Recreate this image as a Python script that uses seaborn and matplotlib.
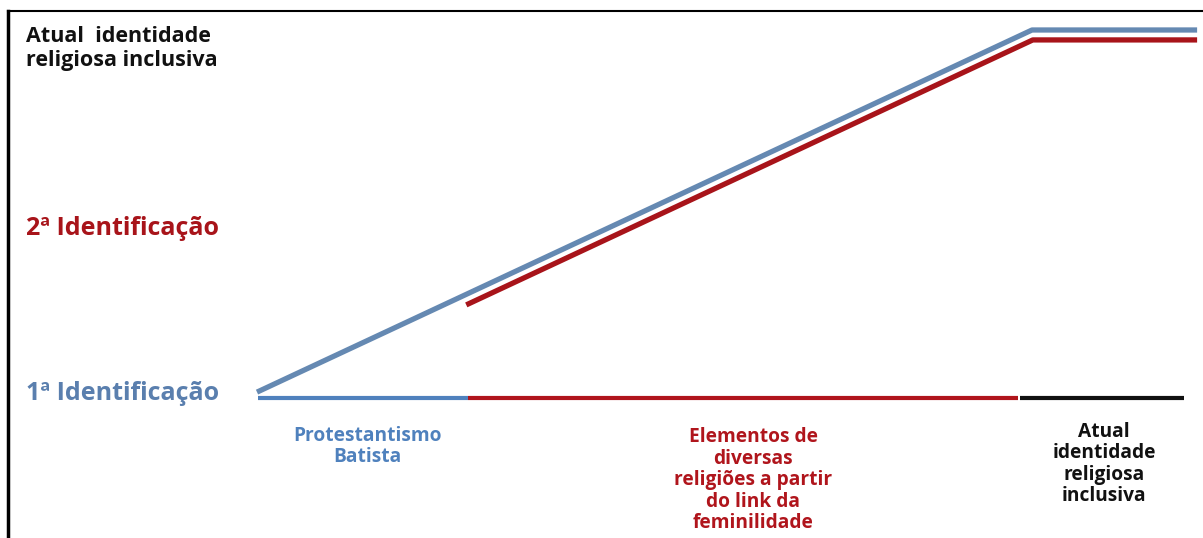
import numpy as np
import pandas as pd
import matplotlib
matplotlib.use("Agg")
import matplotlib.pyplot as plt
import seaborn as sns

# trajectories (x = progress along the path, y = identification level)
blue_x = [0, 100, 121.3]
blue_y = [0.16, 10.0, 10.0]
red_x = [27.0, 100.1, 121.3]
red_y = [2.53, 9.73, 9.73]

# stages along the bottom axis
stage_labels = ["Protestantismo\nBatista",
                "Elementos de\ndiversas\nreligiões a partir\ndo link da\nfeminilidade",
                "Atual\nidentidade\nreligiosa\ninclusiva"]
stage_start = [0.1, 27.2, 98.4]
stage_end = [27.2, 98.2, 119.6]
stage_colors = ["#4f81bd", "#b0151c", "#111111"]

level_labels = ["1ª Identificação", "2ª Identificação", "Atual  identidade\nreligiosa inclusiva"]
level_y = [0.12, 4.6, 9.5]
level_colors = ["#5a7fae", "#a8141a", "#111111"]

sns.set_style("white")
plt.rcParams["font.family"] = ["Open Sans", "DejaVu Sans"]

fig = plt.figure(figsize=(12.03, 5.38), dpi=100)
ax = fig.add_axes([8 / 1203, 0, 1 - 8 / 1203, 1 - 11 / 538])

df_blue = pd.DataFrame({"x": blue_x, "y": blue_y})
df_red = pd.DataFrame({"x": red_x, "y": red_y})
sns.lineplot(data=df_blue, x="x", y="y", sort=False, color="#6589b2", lw=3.8, ax=ax,
             solid_capstyle="butt")
sns.lineplot(data=df_red, x="x", y="y", sort=False, color="#a8141a", lw=3.8, ax=ax,
             solid_capstyle="butt")

# baseline segments
for s, e, c in zip(stage_start, stage_end, stage_colors):
    ax.hlines(0, s, e, color=c, lw=3.0)

# stage labels under the baseline
label_x = [14.2, 64.0, 109.3]
label_top = [-0.75, -0.8, -0.65]
for lx, ly, lab, c in zip(label_x, label_top, stage_labels, stage_colors):
    ax.text(lx, ly, lab, ha="center", va="top", color=c, fontsize=13.8,
            fontweight="bold", linespacing=1.1)

# level labels on the left
ax.text(-29.8, level_y[0], level_labels[0], ha="left", va="center",
        color=level_colors[0], fontsize=18, fontweight="bold")
ax.text(-29.8, level_y[1], level_labels[1], ha="left", va="center",
        color=level_colors[1], fontsize=18, fontweight="bold")
ax.text(-29.8, level_y[2], level_labels[2], ha="left", va="center",
        color=level_colors[2], fontsize=15.5, fontweight="bold", linespacing=1.15)

ax.set_xlim(-32.13, 122.06)
ax.set_ylim(-3.804, 10.516)
ax.set_xticks([])
ax.set_yticks([])
ax.set_xlabel("")
ax.set_ylabel("")
for side in ["right", "bottom"]:
    ax.spines[side].set_visible(False)
ax.spines["left"].set_linewidth(2.5)
ax.spines["left"].set_color("black")
ax.spines["top"].set_linewidth(1.5)
ax.spines["top"].set_color("black")

fig.savefig("out.png", dpi=100)
